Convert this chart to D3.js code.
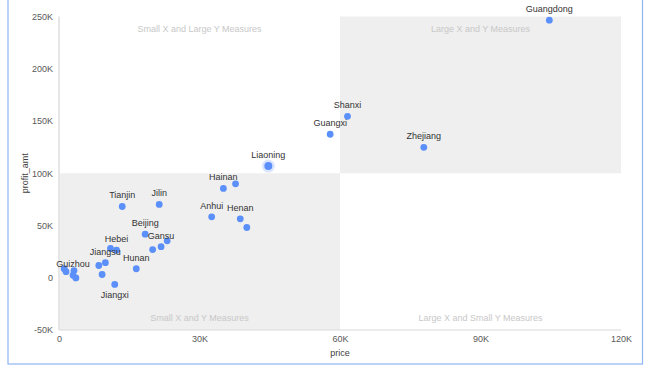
<!DOCTYPE html>
<html><head><meta charset="utf-8">
<script src="https://cdn.jsdelivr.net/npm/d3@7"></script>
<style>
html,body{margin:0;padding:0;background:#fff;}
svg{display:block;font-family:"Helvetica Neue",Helvetica,Arial,"Liberation Sans",sans-serif;}
</style></head>
<body><svg id="c" width="648" height="370"></svg>
<script>
// Data (price in thousands, profit_amt in thousands)
const provinces = ["Guangdong","Shanxi","Guangxi","Zhejiang","Liaoning","Hainan","","Anhui","Henan","","Tianjin","Jilin","Beijing","","Gansu","","","Hebei","Jiangsu","","","Hunan","Jiangxi","","","","Guizhou",""];
const prices    = [104.7,61.6,57.9,77.9,44.7,35.1,37.7,32.6,38.7,40.1,13.5,21.4,18.4,23.1,21.8,20.0,11.0,12.3,9.9,8.5,9.2,16.5,11.9,1.1,1.5,3.2,3.0,3.6];
const profits   = [246.5,154.5,137.3,124.8,106.9,85.5,89.9,58.3,56.4,48.1,68.2,70.2,41.7,35.3,29.7,27.0,28.0,26.4,14.4,11.7,3.1,8.6,-6.4,8.6,5.8,6.9,2.4,-0.2];
const labelBelow = ["Jiangxi"];
const activePoint = "Liaoning";
const xTicks = [0,30,60,90,120];
const yTicks = [-50,0,50,100,150,200,250];
const xSplit = 60, ySplit = 100;
const quadrantTexts = ["Small X and Large Y Measures","Large X and Y Measures","Small X and Y Measures","Large X and Small Y Measures"];

const svg = d3.select("#c");
const L = 59, R = 621, T = 16.5, B = 330;
const x = d3.scaleLinear().domain([0,120]).range([L,R]);
const y = d3.scaleLinear().domain([-50,250]).range([B,T]);
const fmt = v => v === 0 ? "0" : v + "K";

// outer frame
svg.append("rect").attr("x",8).attr("y",-2).attr("width",634.5).attr("height",366)
  .attr("fill","none").attr("stroke","#8fb6f4").attr("stroke-width",1.2);

// quadrant shading
svg.append("rect").attr("x",x(0)).attr("y",y(ySplit)).attr("width",x(xSplit)-x(0)).attr("height",y(-50)-y(ySplit)).attr("fill","#efefef");
svg.append("rect").attr("x",x(xSplit)).attr("y",y(250)).attr("width",x(120)-x(xSplit)).attr("height",y(ySplit)-y(250)).attr("fill","#efefef");

// quadrant labels
const qx = [(x(0)+x(xSplit))/2,(x(xSplit)+x(120))/2,(x(0)+x(xSplit))/2,(x(xSplit)+x(120))/2];
const qy = [y(250)+15,y(250)+15,y(-50)-9,y(-50)-9];
svg.selectAll("text.q").data(quadrantTexts).join("text").attr("class","q")
  .attr("x",(d,i)=>qx[i]).attr("y",(d,i)=>qy[i]).attr("text-anchor","middle")
  .attr("font-size",9).attr("fill","#c8c8c8").text(d=>d);

// axes lines
svg.append("line").attr("x1",L).attr("x2",L).attr("y1",T).attr("y2",B).attr("stroke","#e6e6e6").attr("stroke-width",2);
svg.append("line").attr("x1",L).attr("x2",R).attr("y1",B).attr("y2",B).attr("stroke","#d9d9d9").attr("stroke-width",1);

// axis ticks
const xa = d3.axisBottom(x).tickValues(xTicks).tickFormat(fmt).tickSize(0).tickPadding(6);
const gx = svg.append("g").attr("transform",`translate(0,${B})`).call(xa);
gx.select(".domain").remove();
gx.selectAll("text").attr("font-size",9).attr("fill","#595959").attr("font-family",null);
const ya = d3.axisLeft(y).tickValues(yTicks).tickFormat(fmt).tickSize(0).tickPadding(6);
const gy = svg.append("g").attr("transform",`translate(${L},0)`).call(ya);
gy.select(".domain").remove();
gy.selectAll("text").attr("font-size",9).attr("fill","#595959").attr("font-family",null);

// axis titles
svg.append("text").attr("x",(L+R)/2).attr("y",356).attr("text-anchor","middle").attr("font-size",9).attr("fill","#404040").text("price");
svg.append("text").attr("transform",`translate(28,${(T+B)/2}) rotate(-90)`).attr("text-anchor","middle").attr("font-size",9).attr("fill","#404040").text("profit_amt");

// points
const data = prices.map((p,i)=>({name:provinces[i],x:p,y:profits[i]}));
data.filter(d=>d.name===activePoint).forEach(d=>{
  svg.append("circle").attr("cx",x(d.x)).attr("cy",y(d.y)).attr("r",6.5).attr("fill","#5b8ff9").attr("opacity",0.22);
});
svg.selectAll("circle.p").data(data).join("circle").attr("class","p")
  .attr("cx",d=>x(d.x)).attr("cy",d=>y(d.y)).attr("r",d=>d.name===activePoint?4:3.4)
  .attr("fill","#5b8ff9");

// labels
svg.selectAll("text.l").data(data.filter(d=>d.name)).join("text").attr("class","l")
  .attr("x",d=>x(d.x)).attr("y",d=>labelBelow.includes(d.name)?y(d.y)+14:y(d.y)-8)
  .attr("text-anchor","middle").attr("font-size",9).attr("fill","#333")
  .text(d=>d.name);
</script></body></html>
